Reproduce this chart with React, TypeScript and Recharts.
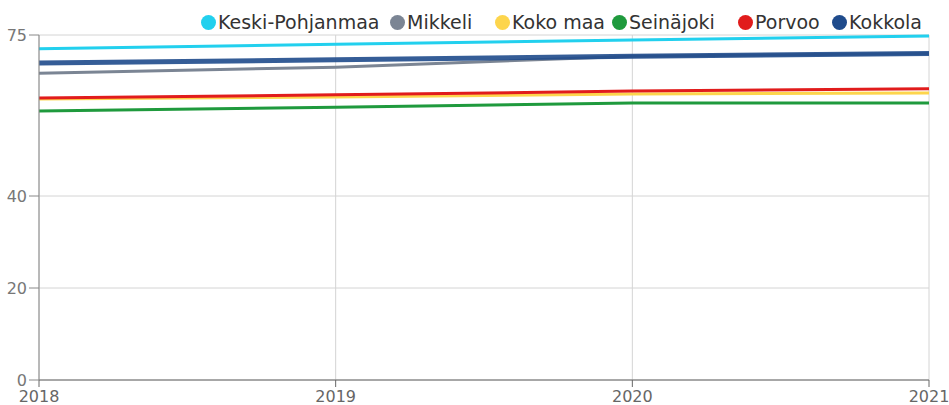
import { LineChart, Line, XAxis, YAxis, CartesianGrid } from "recharts";

const years = [2018, 2019, 2020, 2021];
const keskiPohjanmaa = [72.0, 73.0, 73.9, 74.8];
const mikkeli = [66.7, 68.0, 70.4, 71.0];
const kokoMaa = [61.1, 61.5, 62.2, 62.4];
const seinajoki = [58.5, 59.3, 60.2, 60.2];
const porvoo = [61.3, 62.0, 62.8, 63.3];
const kokkola = [68.9, 69.6, 70.4, 71.0];
const yTicks = [0, 20, 40, 75];

// legend order = draw order
const series = [
  { key: "Keski-Pohjanmaa", values: keskiPohjanmaa, color: "#22d0ee", width: 3 },
  { key: "Mikkeli", values: mikkeli, color: "#7b8594", width: 3 },
  { key: "Koko maa", values: kokoMaa, color: "#fdd54c", width: 3 },
  { key: "Seinäjoki", values: seinajoki, color: "#1f9a3d", width: 3 },
  { key: "Porvoo", values: porvoo, color: "#e11c1c", width: 3 },
  { key: "Kokkola", values: kokkola, color: "#1f4b8c", width: 5 },
];

const data = years.map((year, i) => {
  const row: Record<string, number> = { year };
  series.forEach((s) => {
    row[s.key] = s.values[i];
  });
  return row;
});

// legend items are not evenly spaced in the original
const legendWidths = [189, 105, 117, 126, 94, 90];

export default function App() {
  const font = "'DejaVu Sans', sans-serif";
  return (
    <div style={{ position: "relative", width: 949, height: 405, fontFamily: font }}>
      <style>{"body{margin:0}"}</style>
      <LineChart
        width={949}
        height={405}
        data={data}
        margin={{ top: 35, right: 20, left: 0, bottom: 0 }}>
        <CartesianGrid stroke="#d4d4d4" strokeWidth={1} />
        <XAxis
          dataKey="year"
          type="number"
          domain={[2018, 2021]}
          ticks={years}
          height={25}
          stroke="#666"
          tickSize={7}
          tickMargin={4}
          tick={{ fill: "#666", fontSize: 16, fontFamily: font }}
        />
        <YAxis
          domain={[0, 75]}
          ticks={yTicks}
          width={39}
          stroke="#888"
          tickSize={10}
          tickMargin={2}
          tick={{ fill: "#777", fontSize: 16, fontFamily: font }}
        />
        {series.map((s) => (
          <Line
            key={s.key}
            dataKey={s.key}
            type="linear"
            stroke={s.color}
            strokeWidth={s.width}
            strokeOpacity={s.key === "Kokkola" ? 0.9 : 1}
            dot={false}
            activeDot={false}
            isAnimationActive={false}
          />
        ))}
      </LineChart>
      <div
        style={{
          position: "absolute",
          top: 11,
          left: 201,
          display: "flex",
          fontSize: 19,
          lineHeight: "22px",
          color: "#333",
          whiteSpace: "nowrap",
        }}>
        {series.map((s, i) => (
          <div
            key={s.key}
            style={{ display: "flex", alignItems: "center", width: legendWidths[i] }}>
            <span
              style={{
                width: 15,
                height: 15,
                borderRadius: "50%",
                backgroundColor: s.color,
                display: "inline-block",
                marginRight: 2,
                flexShrink: 0,
              }}
            />
            <span>{s.key}</span>
          </div>
        ))}
      </div>
    </div>
  );
}
